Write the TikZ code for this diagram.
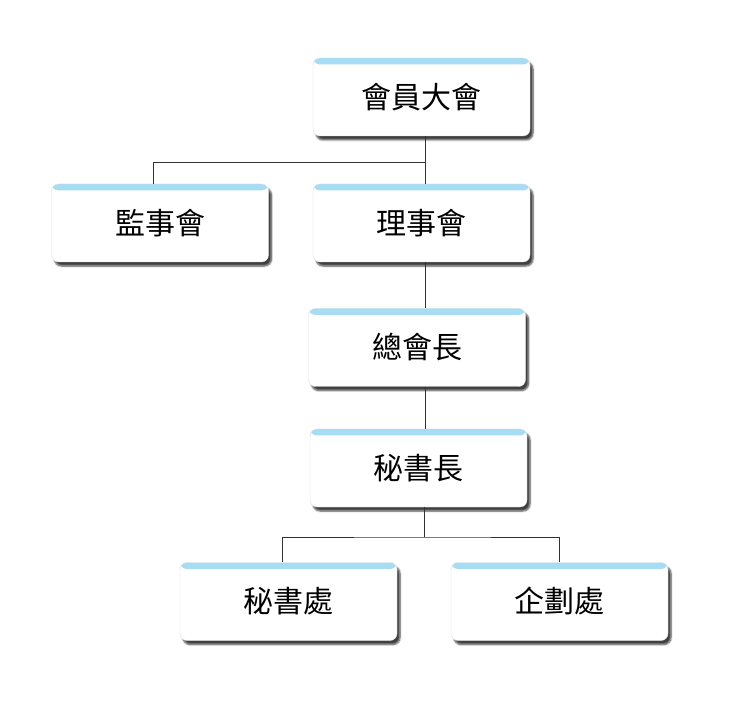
\documentclass[tikz,border=0pt]{standalone}
\usepackage{fontspec}
\newfontfamily\cjk{Noto Sans CJK TC}
\usepackage{tikz}
\usetikzlibrary{shadows.blur}
\definecolor{stripeblue}{RGB}{166,220,244}
\definecolor{linegray}{RGB}{50,50,50}

\begin{document}
\begin{tikzpicture}[x=1pt,y=-1pt,
    unit/.style={fill=white,draw=gray!25,rounded corners=7pt,
                 minimum width=217pt,minimum height=78pt,inner sep=0pt,
                 font=\cjk\fontsize{30}{34}\selectfont,
                 blur shadow={shadow xshift=3pt,shadow yshift=-4pt,
                              shadow blur steps=6,shadow opacity=75},
                 path picture={\fill[stripeblue]
                   (path picture bounding box.north west) rectangle
                   ([yshift=-6.5pt]path picture bounding box.north east);}},
    link/.style={draw=linegray,line width=0.8pt},
  ]
    \useasboundingbox (0,0) rectangle (740,714);
    % assembly and boards
    \node[unit] (gm)    at (421.5,97)  {會員大會};
    \node[unit] (sup)   at (160,223)   {監事會};
    \node[unit] (board) at (421.5,223) {理事會};
    % officers
    \node[unit] (pres)  at (417,347.5) {總會長};
    \node[unit] (sg)    at (418.5,468) {秘書長};
    % offices
    \node[unit] (secr)  at (288.5,601.5) {秘書處};
    \node[unit] (plan)  at (559.5,601.5) {企劃處};
    \coordinate (jtop) at (425,162);
    \coordinate (jbot) at (424,537);
    \draw[link] (gm.south -| jtop) -- (board.north -| jtop);
    \draw[link] (jtop) -| ([xshift=-7pt]sup.north);
    \draw[link] (board.south -| jtop) -- (pres.north -| jtop);
    \draw[link] (pres.south -| jtop) -- (sg.north -| jtop);
    \draw[link] (sg.south -| jbot) -- (jbot);
    \draw[link] ([xshift=-6pt]secr.north) |- (jbot) -| (plan.north);
  \end{tikzpicture}
\end{document}
